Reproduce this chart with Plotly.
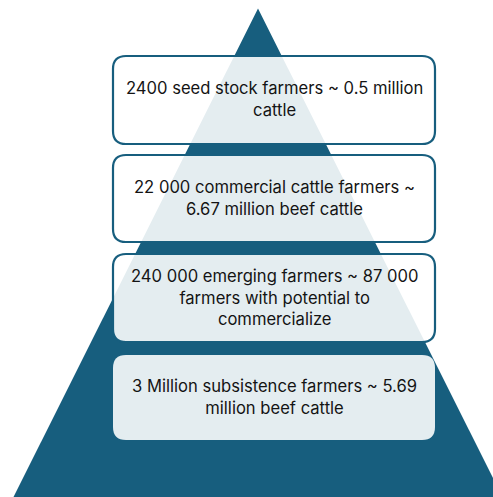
import plotly.graph_objects as go

# Tiers of the beef cattle farming sector, top (smallest) to bottom (largest)
tier_labels = [
    "2400 seed stock farmers ~ 0.5 million<br>cattle",
    "22 000 commercial cattle farmers ~<br>6.67 million beef cattle",
    "240 000 emerging farmers ~ 87 000<br>farmers with potential to<br>commercialize",
    "3 Million subsistence farmers ~ 5.69<br>million beef cattle",
]
tier_top = [56, 155, 254, 355]
tier_bottom = [144, 242, 342, 440]
tier_outlined = [True, True, True, False]

# Pyramid outline (apex and base corners)
pyr_x = [258, 7, 509, 258]
pyr_y = [8.5, 510, 510, 8.5]

DARK = "#175E7E"
W, H = 493, 497
BOX_L, BOX_R, RAD = 113, 435, 13

fig = go.Figure()
fig.add_trace(go.Scatter(
    x=pyr_x, y=pyr_y, mode="lines", fill="toself",
    fillcolor=DARK, line=dict(width=0, color=DARK),
    hoverinfo="skip", showlegend=False,
))


def rounded_rect(x0, y0, x1, y1, r):
    return (f"M {x0+r},{y0} L {x1-r},{y0} Q {x1},{y0} {x1},{y0+r} "
            f"L {x1},{y1-r} Q {x1},{y1} {x1-r},{y1} "
            f"L {x0+r},{y1} Q {x0},{y1} {x0},{y1-r} "
            f"L {x0},{y0+r} Q {x0},{y0} {x0+r},{y0} Z")


for label, top, bot, outlined in zip(tier_labels, tier_top, tier_bottom, tier_outlined):
    fig.add_shape(
        type="path", path=rounded_rect(BOX_L, top, BOX_R, bot, RAD),
        xref="x", yref="y",
        fillcolor="rgba(255,255,255,0.885)",
        line=dict(color=DARK if outlined else "rgba(0,0,0,0)", width=2.2),
        layer="above",
    )
    fig.add_annotation(
        x=(BOX_L + BOX_R) / 2, y=(top + bot) / 2 - 1, xref="x", yref="y",
        text=label, showarrow=False, align="center",
        font=dict(family="Inter", size=16.6, color="#141414"),
    )

fig.update_layout(
    width=W, height=H, margin=dict(l=0, r=0, t=0, b=0),
    paper_bgcolor="white", plot_bgcolor="white",
    xaxis=dict(range=[0, W], visible=False, fixedrange=True),
    yaxis=dict(range=[H, 0], visible=False, fixedrange=True),
    showlegend=False,
)

fig.write_html("out.html")
